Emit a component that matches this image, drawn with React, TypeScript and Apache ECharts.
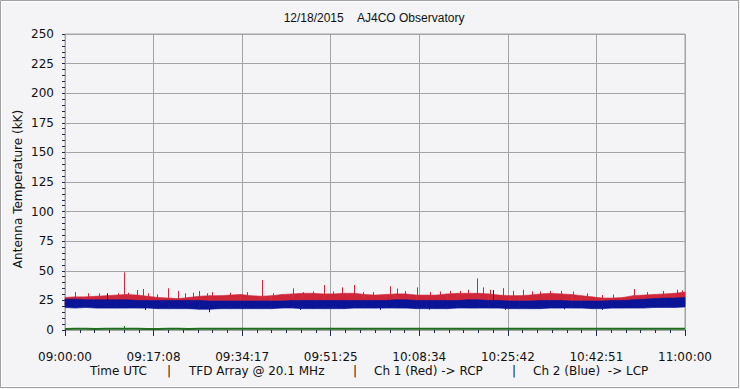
import React, { useEffect, useRef } from "react";
import * as echarts from "echarts";

// ---- data ----
const SAMPLE_STEP_MIN = 2; // envelope samples every 2 minutes, 09:00 -> 11:00

const redUpper = [
  27.5, 28, 28, 28.5, 29, 29.5, 30, 29.5, 28.5, 27.5,
  27, 26.5, 27.5, 28.5, 29, 29, 29.5, 30, 29, 28.5,
  29, 30, 30.5, 31, 31, 30.5, 30.5, 31, 31, 30,
  29.5, 30, 30.5, 30.5, 29.5, 29.5, 29.5, 30.5, 31, 31,
  31, 30.5, 29.5, 29, 29, 29.5, 30.5, 31, 30.5, 30,
  29, 28, 27, 27, 27.5, 29, 29.5, 30, 30.5, 31,
  32,
];
const redLower = [
  21, 21, 21, 21, 21, 21, 21, 21, 21, 21,
  21, 21, 21, 21, 21, 21, 21, 21, 21, 21,
  21, 21, 21, 21, 21, 21, 21, 21, 21, 21,
  21, 21, 21, 21, 21, 21, 21, 21, 21, 21,
  21, 21, 21, 21, 21, 21, 21, 21, 21, 21,
  21, 21, 21, 21, 21, 21, 21, 21, 21, 21,
  21,
];
const blueUpper = [
  26, 26, 25.5, 25.5, 25.5, 25.5, 25.5, 25, 25, 25,
  25, 25, 25, 25, 24.5, 24.5, 24.5, 24.5, 24.5, 24.5,
  24.5, 24.5, 25, 25, 25, 25, 25, 25, 25, 25,
  25, 25, 25.5, 25.5, 25, 25, 25, 25, 25, 25.5,
  25.5, 25, 25, 24.5, 24.5, 24.5, 25, 25, 25, 24.5,
  24.5, 24.5, 24.5, 25, 25, 25.5, 26, 26.5, 27, 27,
  27.5,
];
const blueLower = [
  19, 18.5, 19, 18.5, 18.5, 18.5, 18.5, 18.5, 18.5, 18,
  18, 18, 18, 17.5, 17.5, 18, 18, 18, 18, 18,
  18, 18.5, 18.5, 18, 18, 18, 18, 18, 18.5, 18.5,
  18.5, 18.5, 18.5, 18.5, 18, 18, 18, 18, 18.5, 18.5,
  18.5, 18.5, 18.5, 18, 18, 18, 18, 18.5, 18.5, 18.5,
  18.5, 18, 18, 18.5, 18.5, 18.5, 18.5, 19, 19, 19,
  19.5,
];
const greenLevel = [
  0.9, 1, 1, 0.9, 1, 1, 1.1, 1, 0.9, 0.9,
  1, 1, 0.9, 1, 1, 1, 1, 1.1, 1, 1,
  1, 1.1, 1, 1, 1, 1, 1.1, 1, 1, 1,
  1, 1, 1.1, 1, 1, 1.1, 1, 1, 1, 1,
  1, 1, 1, 1, 1.1, 1, 1, 1, 1, 1,
  1, 1, 1, 1, 1, 1, 1, 1, 1, 1,
  1,
];

// spikes: minutes after 09:00, peak value (kK)
const redSpikeMin = [
  1.9, 4.5, 6.6, 10.3, 11.4, 12.2, 13.9, 15.1, 16.1, 17.8,
  19.9, 21.9, 23.2, 24.8, 25.9, 27.5, 28.5, 31.9, 35.2, 38.1,
  40.3, 44.1, 46.1, 48.0, 50.1, 51.9, 53.6, 55.9, 57.7, 59.6,
  62.9, 64.3, 65.8, 68.1, 70.6, 72.6, 74.5, 76.5, 78.0, 79.7,
  80.9, 82.3, 84.8, 86.7, 88.6, 90.4, 91.9, 93.9, 96.0, 98.3,
  101.0, 103.9, 106.1, 110.1, 112.6, 115.7, 118.5, 119.4,
];
const redSpikePeak = [
  32, 31, 31, 31, 48.7, 31.5, 33.8, 34.6, 31, 30,
  35.2, 33, 31, 31.5, 33, 31, 32, 31.5, 32, 42.2,
  31, 35.2, 32, 32.5, 38, 32.5, 36, 38, 32, 32,
  37, 35, 33, 36, 32, 32.5, 33, 33, 34, 43.6,
  36, 34, 35.4, 33, 34, 32.5, 32.5, 33, 33, 32.5,
  31, 29.5, 30, 34.6, 32, 33, 34, 33.5,
];
const blueSpikeMin = [8.1, 82.8, 15.5, 27.9, 45.5, 61, 70.5, 85.2, 96.5, 104];
const blueSpikeFrom = [24, 24, 19, 19, 19, 19, 19, 19, 19, 19];
const blueSpikeTo = [31, 33.8, 16.8, 15, 17, 17, 17.2, 17, 17.5, 17];
const greenSpikeMin = [11.4];
const greenSpikePeak = [3.4];

const xTickLabels = ["09:00:00", "09:17:08", "09:34:17", "09:51:25", "10:08:34", "10:25:42", "10:42:51", "11:00:00"];
const X_MAX = 7200; // seconds
const X_INTERVAL = X_MAX / 7;

const RED = "#d0263a";
const BLUE = "#0a1496";
const GREEN = "#1f6e1f";
const BG = "#f4f4f6";
const GRIDC = "#a4a4a4";
const TICKC = "#1c2c4c";

function pts(arr: number[]) {
  return arr.map((v, i) => [i * SAMPLE_STEP_MIN * 60, v]);
}

function bandSeries(name: string, lower: number[], upper: number[], color: string, z: number) {
  const data: number[][] = [];
  for (let i = 0; i < lower.length - 1; i++) {
    data.push([i * SAMPLE_STEP_MIN * 60, (i + 1) * SAMPLE_STEP_MIN * 60, lower[i], upper[i], lower[i + 1], upper[i + 1]]);
  }
  return {
    name,
    type: "custom",
    z,
    silent: true,
    encode: { x: [0, 1], y: [2, 3, 4, 5] },
    data,
    renderItem: (_p: any, api: any) => {
      const a = api.coord([api.value(0), api.value(2)]);
      const b = api.coord([api.value(0), api.value(3)]);
      const c = api.coord([api.value(1), api.value(5)]);
      const d = api.coord([api.value(1), api.value(4)]);
      return {
        type: "polygon",
        shape: { points: [a, b, c, d] },
        style: { fill: color, stroke: color, lineWidth: 0.6 },
      };
    },
  };
}

function spikeSeries(name: string, times: number[], from: number[] | number, to: number[], color: string, z: number) {
  return {
    name,
    type: "custom",
    z,
    silent: true,
    encode: { x: 0, y: [1, 2] },
    data: times.map((t, i) => [t * 60, Array.isArray(from) ? from[i] : from, to[i]]),
    renderItem: (_p: any, api: any) => {
      const a = api.coord([api.value(0), api.value(1)]);
      const b = api.coord([api.value(0), api.value(2)]);
      return {
        type: "line",
        shape: { x1: Math.round(a[0]) + 0.5, y1: a[1], x2: Math.round(b[0]) + 0.5, y2: b[1] },
        style: { stroke: color, lineWidth: 1 },
      };
    },
  };
}

export default function App() {
  const ref = useRef<HTMLDivElement>(null);
  useEffect(() => {
    document.body.style.margin = "0";
    const chart = echarts.init(ref.current!, null, { renderer: "svg" });
    const font = "DejaVu Sans";
    const txt = (text: string, x: number, align: string) => ({
      type: "text", silent: true, x, y: 371,
      style: { text, fill: "#111", font: `12px '${font}'`, align, verticalAlign: "middle" },
    });
    const option: any = {
      animation: false,
      backgroundColor: BG,
      grid: { left: 65, right: 55, top: 34, bottom: 59, show: true, borderColor: GRIDC, borderWidth: 1, backgroundColor: "transparent" },
      xAxis: {
        type: "value",
        min: 0,
        max: X_MAX,
        interval: X_INTERVAL,
        offset: 6,
        axisLine: { show: false },
        axisTick: { show: true, length: 6, lineStyle: { color: TICKC, width: 1 } },
        minorTick: { show: true, splitNumber: 6, length: 3, lineStyle: { color: TICKC, width: 1 } },
        splitLine: { show: true, lineStyle: { color: GRIDC, width: 1 } },
        minorSplitLine: { show: false },
        axisLabel: {
          margin: 15,
          color: "#111",
          fontFamily: font,
          fontSize: 12,
          formatter: (v: number) => xTickLabels[Math.round(v / X_INTERVAL)] ?? "",
        },
      },
      yAxis: {
        type: "value",
        min: 0,
        max: 250,
        interval: 25,
        offset: 5,
        axisLine: { show: false },
        axisTick: { show: true, length: 3, lineStyle: { color: TICKC, width: 1 } },
        minorTick: { show: true, splitNumber: 5, length: 3, lineStyle: { color: TICKC, width: 1 } },
        splitLine: { show: true, lineStyle: { color: GRIDC, width: 1 } },
        axisLabel: { margin: 6, color: "#111", fontFamily: font, fontSize: 12 },
      },
      graphic: [
        { type: "rect", silent: true, shape: { x: 0.5, y: 0.5, width: 738, height: 387 }, style: { fill: "none", stroke: "#a0a0a0", lineWidth: 1 } },
        { type: "rect", silent: true, shape: { x: 1.5, y: 1.5, width: 736, height: 385 }, style: { fill: "none", stroke: "#ffffff", lineWidth: 1 } },
        {
          type: "text", silent: true, x: 374, y: 18,
          style: { text: "12/18/2015\u00a0\u00a0\u00a0\u00a0AJ4CO Observatory", fill: "#111", font: "12px 'Liberation Sans'", align: "center", verticalAlign: "middle" },
        },
        {
          type: "text", silent: true, x: 18, y: 189, rotation: Math.PI / 2,
          style: { text: "Antenna Temperature (kK)", fill: "#111", font: `12px '${font}'`, align: "center", verticalAlign: "middle" },
        },
        txt("Time UTC", 90, "left"),
        txt("|", 169, "center"),
        txt("TFD Array @ 20.1 MHz", 189, "left"),
        txt("|", 355, "center"),
        txt("Ch 1 (Red) -> RCP", 374, "left"),
        txt("|", 514, "center"),
        txt("Ch 2 (Blue)\u00a0\u00a0-> LCP", 533, "left"),
      ],
      series: [
        spikeSeries("Ch 1 spikes", redSpikeMin, 26, redSpikePeak, RED, 2),
        bandSeries("Ch 1 (RCP)", redLower, redUpper, RED, 3),
        bandSeries("Ch 2 (LCP)", blueLower, blueUpper, BLUE, 4),
        spikeSeries("Ch 2 spikes", blueSpikeMin, blueSpikeFrom, blueSpikeTo, BLUE, 5),
        { name: "Ch 3", type: "line", z: 6, silent: true, symbol: "none", lineStyle: { color: GREEN, width: 2 }, data: pts(greenLevel) },
        spikeSeries("Ch 3 spikes", greenSpikeMin, 1, greenSpikePeak, GREEN, 6),
      ],
    };
    chart.setOption(option);
    return () => chart.dispose();
  }, []);
  return <div ref={ref} style={{ width: 740, height: 389 }} />;
}
